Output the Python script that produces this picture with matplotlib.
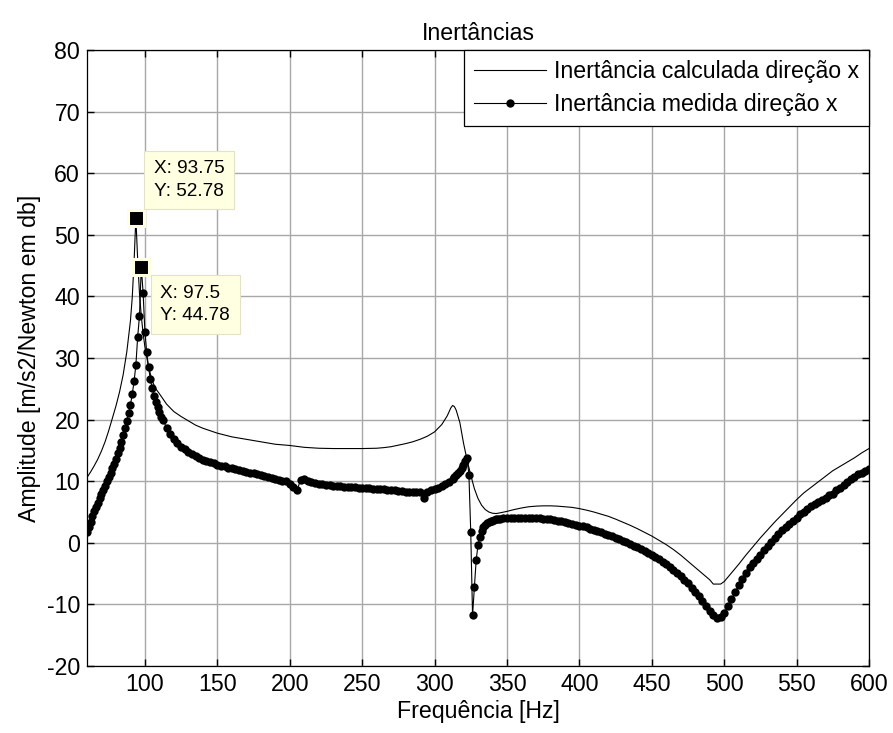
import numpy as np
import matplotlib
matplotlib.use("Agg")
import matplotlib.pyplot as plt

plt.rcParams['font.family'] = ['Liberation Sans', 'DejaVu Sans']
plt.rcParams['axes.unicode_minus'] = False

# Calculated inertance, direction x  [Hz] / [dB]
freq_calc = [60, 62.5, 65, 67.5, 70, 72.5, 75, 77.5, 80, 82.5, 85, 87.5, 90, 91.25,
             92.5, 93.75, 95, 96.25, 97.5, 98.75, 100, 102.5, 105, 107.5, 110, 115,
             120, 125, 130, 135, 140, 150, 160, 170, 180, 190, 200, 210, 220, 230,
             240, 250, 260, 265, 270, 275, 280, 285, 290, 295, 300, 305, 308.75,
             311.25, 312.5, 313.75, 315, 317.5, 320, 322.5, 325, 327.5, 330, 332.5,
             335, 337.5, 340, 342.5, 345, 350, 355, 360, 365, 370, 375, 380, 385,
             390, 395, 400, 405, 410, 415, 420, 425, 430, 435, 440, 445, 450, 455,
             460, 465, 470, 475, 480, 485, 490, 492.5, 497.5, 500, 505, 510, 515,
             520, 525, 530, 535, 540, 545, 550, 555, 560, 565, 570, 575, 580, 585,
             590, 595, 600]
amp_calc = [10.6, 11.5, 12.5, 13.6, 14.9, 16.4, 18.2, 20.2, 22.2, 24.5, 27.3, 31.0, 36.0, 39.8,
            45.5, 52.78, 46.0, 40.5, 36.8, 34.0, 31.8, 28.6, 26.3, 25.0, 24.2, 22.5,
            21.3, 20.5, 19.8, 19.1, 18.6, 17.8, 17.2, 16.8, 16.4, 16.0, 15.8, 15.5, 15.35, 15.3,
            15.3, 15.3, 15.35, 15.45, 15.6, 15.85, 16.1, 16.4, 16.8, 17.3, 18.0, 19.2, 20.6,
            21.9, 22.3, 22.1, 21.5, 19.5, 16.2, 13.4, 11.0, 8.8, 7.2, 6.1,
            5.4, 5.0, 4.8, 4.75, 4.85, 5.1, 5.4, 5.65, 5.85, 5.95, 6.0, 6.0, 5.95,
            5.85, 5.75, 5.55, 5.3, 5.0, 4.65, 4.3, 3.85, 3.35, 2.85, 2.3, 1.7, 1.1, 0.4,
            -0.3, -1.1, -2.0, -3.0, -4.0, -5.0, -6.0, -6.7, -6.7, -6.3, -4.9, -3.5, -2.0,
            -0.6, 0.8, 2.1, 3.4, 4.6, 5.8, 7.0, 8.1, 9.0, 9.9, 10.8, 11.7, 12.4, 13.1,
            13.8, 14.6, 15.3]

# Measured inertance, direction x: sampled on 1.25 Hz / 2.5 Hz grids
freq_meas_1 = np.arange(60, 113.75, 1.25)
amp_meas_1 = [1.8, 2.6, 3.4, 4.3, 5.1, 5.8, 6.5, 7.2, 7.9, 8.6,
              9.3, 10.0, 10.7, 11.4, 12.1, 12.8, 13.6, 14.5, 15.4, 16.4,
              17.5, 18.6, 19.8, 21.0, 22.4, 24.1, 26.2, 28.8, 33.4, 36.8,
              44.78, 40.6, 34.3, 30.9, 28.5, 26.6, 25.1, 23.9, 22.9, 22.0,
              21.2, 20.5, 19.9]
freq_meas_2 = np.arange(115, 313.75, 2.5)
amp_meas_2 = [18.7, 17.7, 16.9, 16.2, 15.6, 15.2, 14.8, 14.4, 14.1, 13.8,
              13.5, 13.3, 13.1, 12.9, 12.7, 12.5, 12.4, 12.2, 12.1, 11.9,
              11.8, 11.65, 11.5, 11.4, 11.25, 11.1, 11.0, 10.85, 10.7, 10.5,
              10.35, 10.2, 10.0, 10.1, 9.6, 9.1, 8.5, 10.2, 10.4, 10.0,
              9.8, 9.7, 9.6, 9.5, 9.45, 9.35, 9.3, 9.2, 9.15, 9.1,
              9.1, 9.0, 9.0, 8.95, 8.95, 8.9, 8.85, 8.8, 8.8, 8.75,
              8.7, 8.65, 8.6, 8.5, 8.4, 8.35, 8.3, 8.3, 8.25, 8.3,
              8.3, 7.2, 8.3, 8.5, 8.7, 8.9, 9.2, 9.5, 9.9, 10.4]
freq_meas_3 = np.arange(313.75, 346.25, 1.25)
amp_meas_3 = [10.7, 11.0, 11.3, 11.7, 12.1, 12.6, 13.2, 13.8, 11.0, 1.8,
              -11.8, -7.2, -2.8, -0.4, 1.0, 1.9, 2.5, 2.9, 3.2, 3.4,
              3.5, 3.6, 3.7, 3.8, 3.85, 3.9]
freq_meas_4 = np.arange(347.5, 601, 2.5)
amp_meas_4 = [3.95, 4.0, 4.05, 4.1, 4.1, 4.1, 4.1, 4.1, 4.05, 4.0,
              3.95, 3.9, 3.85, 3.8, 3.7, 3.6, 3.5, 3.4, 3.25, 3.1,
              2.95, 2.8, 2.65, 2.5, 2.3, 2.1, 1.9, 1.7, 1.5, 1.3,
              1.05, 0.8, 0.55, 0.3, 0.05, -0.2, -0.45, -0.75, -1.05, -1.35,
              -1.65, -2.0, -2.35, -2.7, -3.1, -3.5, -3.95, -4.4, -4.9, -5.4,
              -6.0, -6.6, -7.3, -8.0, -8.7, -9.4, -10.2, -11.0, -11.7, -12.2,
              -12.1, -11.4, -10.3, -9.2, -8.0, -6.9, -5.8, -4.9, -4.0, -3.3,
              -2.6, -1.9, -1.2, -0.6, 0.1, 0.8, 1.4, 2.0, 2.6, 3.1,
              3.6, 4.1, 4.6, 5.0, 5.5, 5.9, 6.3, 6.6, 7.0, 7.3,
              7.7, 8.0, 8.5, 8.9, 9.4, 9.8, 10.3, 10.7, 11.1, 11.4,
              11.7, 11.9]

freq_meas = np.concatenate([freq_meas_1, freq_meas_2, freq_meas_3, freq_meas_4])
amp_meas = np.concatenate([amp_meas_1, amp_meas_2, amp_meas_3, amp_meas_4])

# Data cursors: (x, y)
tip_calc = (93.75, 52.78)
tip_meas = (97.5, 44.78)

x_ticks = np.arange(100, 601, 50)
y_ticks = np.arange(-20, 81, 10)

fig = plt.figure(figsize=(8.93, 7.33), dpi=100)
ax = fig.add_axes([0.0974, 0.0914, 0.8757, 0.8404])

FS = 16.7
ax.plot(freq_calc, amp_calc, color='black', lw=0.8, label='Inertância calculada direção x', zorder=3)
ax.plot(freq_meas, amp_meas, color='black', lw=0.8, marker='o', ms=6.0, mec='black',
        mfc='black', mew=0, label='Inertância medida direção x', zorder=3)

ax.set_xlim(60, 600)
ax.set_ylim(-20, 80)
ax.set_xticks(x_ticks)
ax.set_yticks(y_ticks)
ax.grid(True, color='#a8a8a8', lw=1.0, ls='-')
ax.set_axisbelow(True)
ax.tick_params(direction='in', length=5, width=1, top=True, right=True,
               labelsize=FS, pad=5, colors='black')
for sp in ax.spines.values():
    sp.set_linewidth(0.9)
    sp.set_color('black')

ax.set_title('Inertâncias', fontsize=FS, pad=7)
ax.set_xlabel('Frequência [Hz]', fontsize=FS, labelpad=3)
ax.set_ylabel('Amplitude [m/s2/Newton em db]', fontsize=FS, labelpad=4)

leg = ax.legend(loc='upper right', borderaxespad=0, fancybox=False, framealpha=1,
                edgecolor='black', fontsize=FS, handlelength=3.1, handletextpad=0.35,
                borderpad=0.42, labelspacing=0.45)
leg.get_frame().set_linewidth(0.9)

# Data cursor markers and tip boxes
tip_bg = '#FFFFE1'
for (tx, ty), off, va in [(tip_calc, (13.0, 13.0), 'bottom'),
                          (tip_meas, (13.8, -13.0), 'top')]:
    ax.plot([tx], [ty], 's', ms=12.2, mfc='black', mec=tip_bg, mew=2.2, zorder=6)
    ax.annotate(f'X: {tx:g}\nY: {ty:g}', xy=(tx, ty), xytext=off,
                textcoords='offset points', ha='left', va=va, fontsize=13.7,
                linespacing=1.4, zorder=7,
                bbox=dict(boxstyle='square,pad=0.5', fc=tip_bg, ec='#E2E2C8', lw=0.8))

fig.savefig('out.png', dpi=100)
